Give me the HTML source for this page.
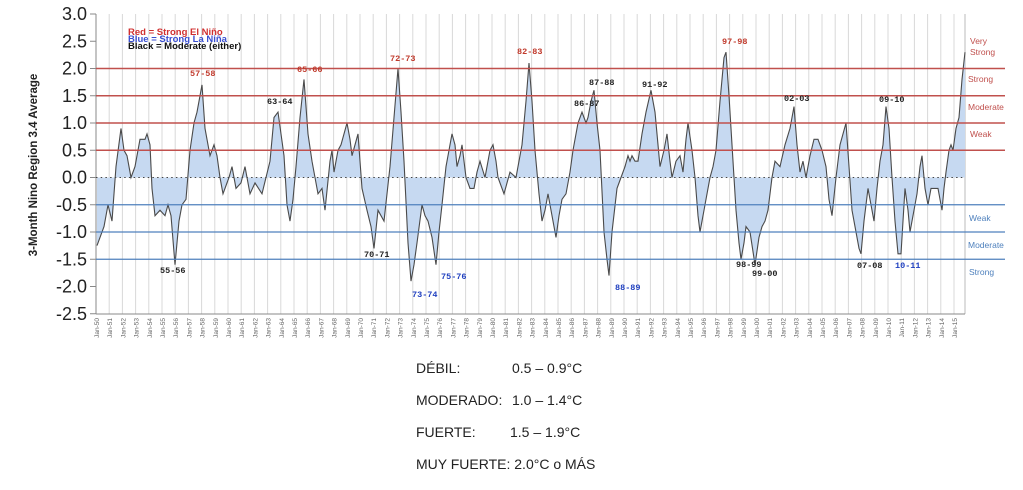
<!DOCTYPE html>
<html><head><meta charset="utf-8"><style>
body{margin:0;background:#fff;width:1023px;height:490px;overflow:hidden;font-family:"Liberation Sans",sans-serif}
svg{position:absolute;left:0;top:0}
.b{position:absolute;font-size:14px;color:#222}
</style></head><body>
<svg id="s" width="1023" height="490" xmlns="http://www.w3.org/2000/svg"></svg>
<div class="b" style="left:416px;top:360px">DÉBIL:</div><div class="b" style="left:512px;top:360px">0.5 – 0.9°C</div>
<div class="b" style="left:416px;top:392px">MODERADO:</div><div class="b" style="left:512px;top:392px">1.0 – 1.4°C</div>
<div class="b" style="left:416px;top:424px">FUERTE:</div><div class="b" style="left:510px;top:424px">1.5 – 1.9°C</div>
<div class="b" style="left:416px;top:456px">MUY FUERTE: 2.0°C o MÁS</div>
<script>
const s=document.getElementById('s');let h='';
const Y=v=>177.5-v*54.5, X0=96, dx=13.2, R=965;
for(let i=0;i<=66;i++){const x=X0+i*dx;if(x<=R)h+=`<line x1="${x}" y1="14" x2="${x}" y2="314" stroke="#d8d8d8" stroke-width="1"/>`;}
h+=`<line x1="${R}" y1="14" x2="${R}" y2="314" stroke="#bbb"/>`;
h+=`<line x1="96" y1="14" x2="96" y2="314" stroke="#888"/><line x1="96" y1="314" x2="${R}" y2="314" stroke="#888"/>`;
for(let v=3;v>=-2.5;v-=0.5){h+=`<line x1="90" y1="${Y(v)}" x2="96" y2="${Y(v)}" stroke="#888"/><text x="87" y="${Y(v)+6}" font-size="18" text-anchor="end" fill="#222">${v.toFixed(1)}</text>`;}
for(let i=0;i<66;i++){const x=X0+i*dx+3;const yy=String((50+i)%100).padStart(2,'0');h+=`<text transform="translate(${x},318) rotate(-90)" font-size="6.5" text-anchor="end" fill="#666">Jan-${yy}</text>`;}
const P=[[97,-1.25],[100,-1.1],[104,-0.9],[108,-0.5],[112,-0.8],[116,0.2],[121,0.9],[124,0.5],[127,0.4],[131,0.0],[135,0.2],[140,0.7],[145,0.7],[147,0.8],[150,0.6],[152,-0.2],[155,-0.7],[160,-0.6],[165,-0.7],[168,-0.5],[171,-0.7],[175,-1.6],[179,-0.8],[182,-0.5],[186,-0.4],[190,0.5],[194,1.0],[197,1.2],[202,1.7],[205,0.9],[208,0.6],[210,0.4],[214,0.6],[217,0.4],[220,0.0],[223,-0.3],[229,0.0],[232,0.2],[236,-0.2],[241,-0.1],[245,0.2],[250,-0.3],[255,-0.1],[262,-0.3],[266,0.0],[270,0.3],[274,1.1],[278,1.2],[281,0.8],[284,0.4],[287,-0.5],[290,-0.8],[293,-0.4],[296,0.2],[300,1.1],[304,1.8],[308,0.8],[312,0.3],[318,-0.3],[322,-0.2],[325,-0.6],[330,0.3],[332,0.5],[334,0.1],[338,0.5],[341,0.6],[347,1.0],[350,0.7],[352,0.4],[355,0.6],[358,0.8],[362,-0.2],[367,-0.6],[371,-0.9],[374,-1.3],[378,-0.6],[381,-0.7],[384,-0.8],[390,0.2],[394,1.1],[398,2.0],[401,1.2],[404,0.3],[408,-1.2],[411,-1.9],[414,-1.6],[417,-1.2],[422,-0.5],[425,-0.7],[428,-0.8],[432,-1.1],[436,-1.6],[439,-1.0],[442,-0.5],[446,0.2],[448,0.4],[452,0.8],[455,0.6],[457,0.2],[460,0.4],[462,0.6],[466,0.0],[470,-0.2],[474,-0.2],[477,0.1],[480,0.3],[485,0.0],[490,0.5],[493,0.6],[496,0.3],[498,0.0],[504,-0.3],[510,0.1],[516,0.0],[520,0.4],[522,0.6],[526,1.4],[529,2.1],[532,1.4],[535,0.5],[539,-0.3],[542,-0.8],[545,-0.6],[548,-0.3],[552,-0.7],[556,-1.1],[559,-0.7],[562,-0.4],[566,-0.3],[570,0.1],[573,0.5],[578,1.0],[582,1.2],[586,1.0],[588,1.1],[591,1.4],[594,1.6],[597,1.0],[600,0.5],[604,-1.0],[607,-1.5],[609,-1.8],[612,-1.0],[617,-0.2],[621,0.0],[625,0.2],[628,0.4],[630,0.3],[632,0.4],[635,0.3],[638,0.3],[642,0.8],[646,1.2],[651,1.6],[655,1.2],[660,0.2],[664,0.5],[667,0.8],[670,0.3],[672,0.0],[676,0.3],[680,0.4],[683,0.1],[686,0.7],[688,1.0],[692,0.5],[695,0.0],[698,-0.7],[700,-1.0],[703,-0.7],[705,-0.5],[710,0.0],[713,0.2],[716,0.5],[720,1.4],[724,2.2],[726,2.3],[729,1.5],[733,0.3],[736,-0.6],[739,-1.2],[741,-1.5],[744,-1.2],[746,-0.9],[750,-1.0],[755,-1.6],[759,-1.1],[762,-0.9],[765,-0.8],[768,-0.6],[772,0.0],[775,0.3],[780,0.2],[785,0.6],[790,0.9],[794,1.3],[797,0.6],[800,0.1],[803,0.3],[806,0.0],[810,0.4],[814,0.7],[818,0.7],[822,0.5],[826,0.2],[829,-0.4],[832,-0.7],[836,0.0],[840,0.6],[846,1.0],[849,0.2],[852,-0.6],[856,-1.0],[859,-1.3],[861,-1.4],[864,-0.8],[868,-0.2],[871,-0.5],[874,-0.8],[877,-0.2],[880,0.3],[883,0.6],[886,1.3],[889,0.9],[892,0.0],[895,-0.8],[898,-1.4],[901,-1.4],[905,-0.2],[908,-0.6],[910,-1.0],[914,-0.6],[917,-0.3],[920,0.2],[922,0.4],[925,-0.2],[928,-0.5],[931,-0.2],[938,-0.2],[942,-0.6],[944,-0.2],[946,0.1],[949,0.5],[951,0.6],[953,0.5],[956,0.9],[959,1.1],[962,1.8],[965,2.3]];
let d=`M97,${Y(0)} `+P.map(p=>`L${p[0]},${Y(p[1]).toFixed(1)}`).join(' ')+` L965,${Y(0)} Z`;
h+=`<path d="${d}" fill="#c6d9f1" stroke="none"/>`;
h+=`<path d="M`+P.map(p=>`${p[0]},${Y(p[1]).toFixed(1)}`).join(' L')+`" fill="none" stroke="#4a4a4a" stroke-width="1.1"/>`;
h+=`<line x1="96" y1="${Y(0)}" x2="965" y2="${Y(0)}" stroke="#444" stroke-width="1" stroke-dasharray="1.5,3.2"/>`;
[0.5,1,1.5,2].forEach(v=>h+=`<line x1="96" y1="${Y(v)}" x2="1005" y2="${Y(v)}" stroke="#c0504d" stroke-width="1.5"/>`);
[-0.5,-1,-1.5].forEach(v=>h+=`<line x1="96" y1="${Y(v)}" x2="1005" y2="${Y(v)}" stroke="#4f81bd" stroke-width="1.3"/>`);
const T=(x,y,t,c,fs=8.5,a='start',w='bold')=>h+=`<text x="${x}" y="${y}" font-size="${fs}" fill="${c}" font-weight="${w}" text-anchor="${a}" font-family="Liberation Mono,monospace">${t}</text>`;
const r='#c0392b',b='#1f3fbf',k='#222';
[[190,76,'57-58',r],[297,72,'65-66',r],[390,61,'72-73',r],[517,54,'82-83',r],[722,44,'97-98',r],[267,104,'63-64',k],[589,85,'87-88',k],[574,106,'86-87',k],[642,87,'91-92',k],[784,101,'02-03',k],[879,102,'09-10',k],[160,273,'55-56',k],[364,257,'70-71',k],[412,297,'73-74',b],[441,279,'75-76',b],[615,290,'88-89',b],[736,267,'98-99',k],[752,276,'99-00',k],[857,268,'07-08',k],[895,268,'10-11',b]].forEach(a=>T(a[0],a[1],a[2],a[3]));
const L=(x,y,t,c)=>h+=`<text x="${x}" y="${y}" font-size="8.5" fill="${c}" font-family="Liberation Sans,sans-serif">${t}</text>`;
L(970,44,'Very','#c0504d');L(970,55,'Strong','#c0504d');L(968,82,'Strong','#c0504d');L(968,110,'Moderate','#c0504d');L(970,137,'Weak','#c0504d');
L(969,221,'Weak','#4f81bd');L(968,248,'Moderate','#4f81bd');L(969,275,'Strong','#4f81bd');
h+=`<text x="128" y="35" font-size="9.5" font-weight="bold" fill="#d03030">Red = Strong El Niño</text>`;
h+=`<text x="128" y="42" font-size="9.5" font-weight="bold" fill="#3a4fd0">Blue = Strong La Niña</text>`;
h+=`<text x="128" y="49" font-size="9.5" font-weight="bold" fill="#111">Black = Moderate (either)</text>`;
h+=`<text transform="translate(37,165) rotate(-90)" font-size="11.5" font-weight="bold" text-anchor="middle" fill="#222">3-Month Nino Region 3.4 Average</text>`;
s.innerHTML=h;
</script>
</body></html>
